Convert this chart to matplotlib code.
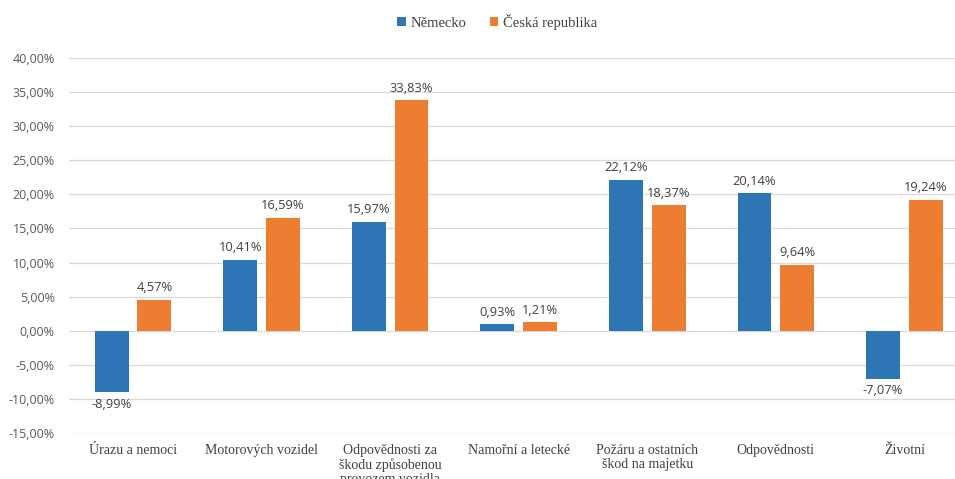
import matplotlib.pyplot as plt
import numpy as np
from matplotlib.ticker import FuncFormatter

categories = ["Úrazu a nemoci", "Motorových vozidel", "Odpovědnosti za\nškodu způsobenou\nprovozem vozidla",
              "Namořní a letecké", "Požáru a ostatních\nškod na majetku", "Odpovědnosti", "Životní"]
series_names = ["Německo", "Česká republika"]
nemecko = [-8.99, 10.41, 15.97, 0.93, 22.12, 20.14, -7.07]
cesko = [4.57, 16.59, 33.83, 1.21, 18.37, 9.64, 19.24]
colors = ["#2E75B6", "#ED7D31"]

W, H = 955, 479
fig = plt.figure(figsize=(W/100, H/100), dpi=100)
ax = fig.add_axes([68.7/W, (H-433)/H, 900/W, 375/H])

x = np.arange(len(categories))
bw = 0.264
off = 0.166
b1 = ax.bar(x - off, nemecko, bw, color=colors[0], label=series_names[0], zorder=3)
b2 = ax.bar(x + off, cesko, bw, color=colors[1], label=series_names[1], zorder=3)

def fmt(v):
    return f"{v:.2f}".replace(".", ",") + "%"

for bars, vals in ((b1, nemecko), (b2, cesko)):
    for r, v in zip(bars, vals):
        cx = r.get_x() + r.get_width()/2
        if v >= 0:
            ax.annotate(fmt(v), (cx, v), xytext=(0, 4), textcoords="offset points",
                        ha="center", va="bottom", fontsize=9.3, color="#404040",
                        family="Open Sans")
        else:
            ax.annotate(fmt(v), (cx, v), xytext=(0, -4), textcoords="offset points",
                        ha="center", va="top", fontsize=9.3, color="#404040",
                        family="Open Sans")

ax.set_xlim(-0.5, 6.5)
ax.set_ylim(-15, 40)
ax.set_yticks(np.arange(-15, 41, 5))
ax.yaxis.set_major_formatter(FuncFormatter(lambda v, p: fmt(v)))
for lab in ax.get_yticklabels():
    lab.set_family("Open Sans")
ax.tick_params(axis="y", length=0, labelsize=9, labelcolor="#595959", pad=10)
ax.tick_params(axis="x", length=0, pad=8)
ax.set_xticks(x)
ax.set_xticklabels(categories, family="Liberation Serif", fontsize=10, color="#404040",
                   linespacing=1.1)
ax.grid(axis="y", color="#D9D9D9", linewidth=0.9, zorder=0)
for s in ax.spines.values():
    s.set_visible(False)

leg = fig.legend(handles=[b1, b2], labels=series_names, loc="center", bbox_to_anchor=(497/W, 1 - 22/H),
                 ncol=2, frameon=False, prop={"family": "Liberation Serif", "size": 10.5},
                 handlelength=0.6, handleheight=0.6, handletextpad=0.3, columnspacing=1.6)
for t in leg.get_texts():
    t.set_color("#404040")

fig.savefig("out.png", dpi=100)
